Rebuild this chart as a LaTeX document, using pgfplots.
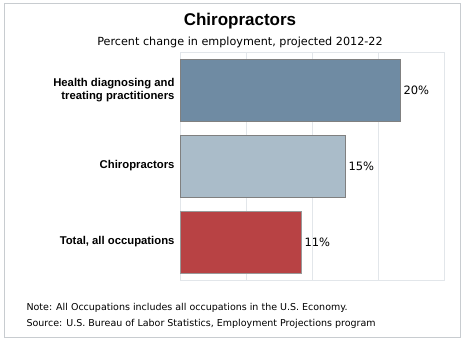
\documentclass[border=0pt]{standalone}
\usepackage{pgfplots}
\pgfplotsset{compat=1.18}
\usepackage{fontspec}
\setmainfont{DejaVu Sans}
\newfontfamily\arialf{Liberation Sans}
\definecolor{barA}{HTML}{6F8BA3}
\definecolor{barB}{HTML}{AABCC9}
\definecolor{barC}{HTML}{B84244}
\definecolor{gridc}{HTML}{E2E6EA}
\definecolor{framec}{HTML}{C8CCD0}
\begin{document}
\begin{tikzpicture}[x=1pt,y=1pt]
\fill[white] (0,0) rectangle (464,341);
\draw[framec, line width=0.8pt] (4,3.5) rectangle (460,338);
\node[font=\arialf\bfseries\fontsize{17}{20}\selectfont] at (240,320) {Chiropractors};
\node[font=\fontsize{11.2}{13}\selectfont] at (240,299) {Percent change in employment, projected 2012-22};
\begin{axis}[
  at={(180pt,61pt)}, anchor=south west,
  scale only axis, width=264pt, height=228pt,
  xbar, bar shift=0pt, bar width=61.5pt,
  xmin=0, xmax=24, ymin=-0.5, ymax=2.5,
  xtick={0,6,12,18,24}, xticklabels={},
  xmajorgrids, major grid style={gridc, line width=0.6pt},
  ytick={0,1,2},
  yticklabels={{Total, all occupations}, Chiropractors, {Health diagnosing and\\treating practitioners}},
  yticklabel style={align=right, font=\arialf\bfseries\fontsize{11.3}{13.5}\selectfont, xshift=-2pt},
  major tick length=0pt,
  axis line style={gridc, line width=0.6pt},
  /pgf/number format/assume math mode=true,
  nodes near coords={\pgfmathprintnumber{\pgfplotspointmeta}\%},
  nodes near coords style={font=\fontsize{11.5}{13}\selectfont, black, xshift=0pt},
  point meta=x,
  clip=false,
]
\addplot[fill=barA, draw=black!50] coordinates {(20,2)};
\addplot[fill=barB, draw=black!50] coordinates {(15,1)};
\addplot[fill=barC, draw=black!40] coordinates {(11,0)};
\end{axis}
\node[font=\fontsize{9.5}{11}\selectfont, anchor=west] at (23,33) {Note: All Occupations includes all occupations in the U.S. Economy.};
\node[font=\fontsize{9.5}{11}\selectfont, anchor=west] at (23,17) {Source: U.S. Bureau of Labor Statistics, Employment Projections program};
\end{tikzpicture}
\end{document}
